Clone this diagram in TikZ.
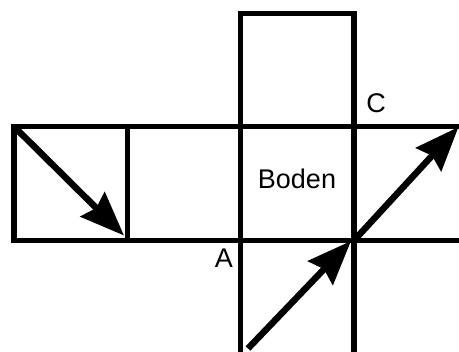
\documentclass[tikz,border=0pt]{standalone}
\usepackage{fontspec}
\setmainfont{Liberation Sans}
\usetikzlibrary{arrows.meta}
\begin{document}
\begin{tikzpicture}[x=1pt,y=-1pt,
  edge/.style={line width=5.8pt, line cap=rect},
  vec/.style={line width=6.5pt, -{Stealth[length=44pt,width=34pt,inset=5pt]}},
  lbl/.style={font=\fontsize{27}{32}\selectfont, inner sep=0pt, anchor=base}]
\useasboundingbox (0,0) rectangle (459,352);
% grid coordinates
\coordinate (tl) at (240.5,13.5);
\coordinate (tr) at (354,13.5);
\coordinate (l1) at (14,126.5);
\coordinate (l2) at (14,240.5);
\coordinate (m1) at (127.5,126.5);
\coordinate (m2) at (127.5,240.5);
\coordinate (c2) at (354,240.5);
\coordinate (r1) at (459,126.5);
\coordinate (r2) at (459,240.5);
\coordinate (ab) at (240.5,352);
\coordinate (cb) at (354,352);
% net
\draw[edge] (l1) -- (r1);
\draw[edge] (l2) -- (r2);
\draw[edge] (tl) -- (tr);
\draw[edge] (tl) -- (ab);
\draw[edge] (tr) -- (cb);
\draw[edge] (l1) -- (l2);
\draw[edge] (m1) -- (m2);
% arrows
\coordinate (p1) at (124,235.5);
\coordinate (p2) at (458.5,127);
\coordinate (q0) at (248,348.5);
\coordinate (q1) at (351,241);
\draw[vec] (l1) -- (p1);
\draw[vec] (c2) -- (p2);
\draw[vec] (q0) -- (q1);
% labels
\node[lbl] (boden) at (297,188.3) {Boden};
\node[lbl] (A) at (224,267.7) {A};
\node[lbl] (C) at (376,112.8) {C};
\end{tikzpicture}
\end{document}
